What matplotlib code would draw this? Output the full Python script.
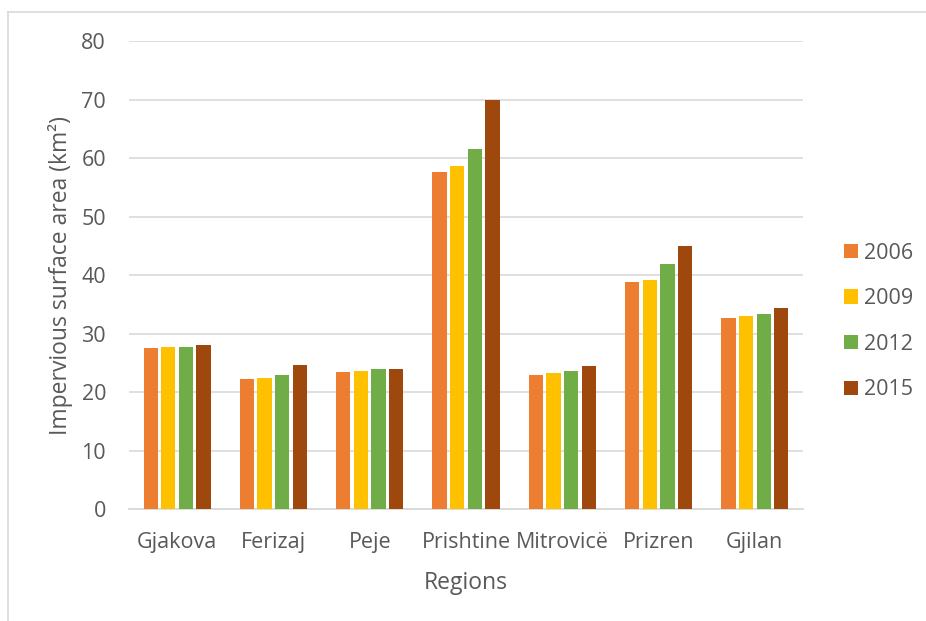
import matplotlib
matplotlib.use("Agg")
import matplotlib.pyplot as plt
from matplotlib.lines import Line2D
import numpy as np

regions = ["Gjakova", "Ferizaj", "Peje", "Prishtine", "Mitrovicë", "Prizren", "Gjilan"]
years = ["2006", "2009", "2012", "2015"]
area_2006 = [27.5, 22.3, 23.5, 57.7, 23.0, 38.9, 32.7]
area_2009 = [27.7, 22.4, 23.7, 58.6, 23.2, 39.2, 33.0]
area_2012 = [27.8, 22.9, 23.9, 61.5, 23.6, 41.9, 33.4]
area_2015 = [28.0, 24.7, 23.9, 69.9, 24.4, 45.0, 34.4]
yticks = [0, 10, 20, 30, 40, 50, 60, 70, 80]

series = [area_2006, area_2009, area_2012, area_2015]
colors = ["#ED7D31", "#FFC000", "#70AD47", "#9E480E"]
text_color = "#595959"
grid_color = "#D9D9D9"

plt.rcParams["font.family"] = ["Open Sans", "DejaVu Sans"]

W, H = 926, 621
fig = plt.figure(figsize=(W / 100, H / 100), dpi=100)
ax = fig.add_axes([129 / W, 1 - 509.3 / H, (803 - 129) / W, (509.3 - 41) / H])

x = np.arange(len(regions))
pitch = 0.183
width = 0.148
for i, (vals, col, yr) in enumerate(zip(series, colors, years)):
    ax.bar(x + (i - 1.5) * pitch, vals, width=width, color=col, label=yr, zorder=3)

ax.set_xlim(-0.5, len(regions) - 0.5)
ax.set_ylim(0, 80)
ax.set_yticks(yticks)
ax.set_xticks(x)
ax.set_xticklabels(regions)
ax.tick_params(axis="both", length=0, labelsize=15.5, colors=text_color)
ax.tick_params(axis="y", pad=16.5)
ax.tick_params(axis="x", pad=16)
ax.grid(axis="y", color=grid_color, linewidth=1.2, zorder=0)
for side in ["top", "right", "left"]:
    ax.spines[side].set_visible(False)
ax.spines["bottom"].set_color(grid_color)
ax.spines["bottom"].set_linewidth(1.3)

ax.set_xlabel("Regions", fontsize=16.5, color=text_color, labelpad=13)
ax.set_ylabel("Impervious surface area (km²)", fontsize=16.5, color=text_color, labelpad=6)

fig.legend(loc="center left", bbox_to_anchor=(844 / W, 1 - 321.5 / H), frameon=False,
           fontsize=15.5, labelcolor=text_color, handlelength=0.65, handleheight=0.65,
           handletextpad=0.3, labelspacing=1.14, borderpad=0, borderaxespad=0)

# outer chart frame
fig.add_artist(Line2D([8 / W, 8 / W], [0, 1 - 12 / H], transform=fig.transFigure,
                      color=grid_color, linewidth=1.2))
fig.add_artist(Line2D([8 / W, 1], [1 - 12 / H, 1 - 12 / H], transform=fig.transFigure,
                      color=grid_color, linewidth=1.2))

fig.savefig("out.png", dpi=100)
